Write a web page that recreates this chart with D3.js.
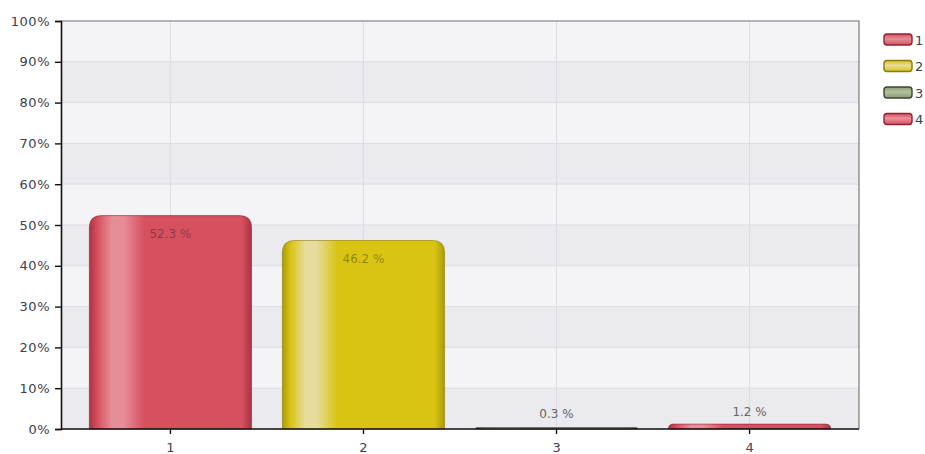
<!DOCTYPE html>
<html>
<head>
<meta charset="utf-8">
<script src="https://cdn.jsdelivr.net/npm/d3@7"></script>
<style>
  html, body { margin: 0; padding: 0; background: #ffffff; }
  svg { display: block; }
  text { font-family: "DejaVu Sans", "Liberation Sans", Arial, sans-serif; }
</style>
</head>
<body>
<svg id="chart" width="925" height="454"></svg>
<script>
// ---- data ----
const categories = ["1", "2", "3", "4"];
const values = [52.3, 46.2, 0.3, 1.2];
const valueLabels = ["52.3 %", "46.2 %", "0.3 %", "1.2 %"];
const yTicks = [0, 10, 20, 30, 40, 50, 60, 70, 80, 90, 100];
const legendLabels = ["1", "2", "3", "4"];

// ---- styles ----
const palette = [
  { main: "#d6505f", light: "#e68e97", dark: "#a83444", edge: "#8c2434" },
  { main: "#d9c414", light: "#e6dc9c", dark: "#ac9a08", edge: "#8c7d00" },
  { main: "#8c9c74", light: "#b4c0a0", dark: "#5c6a4c", edge: "#3c4434" },
  { main: "#d84e60", light: "#e8909a", dark: "#a83444", edge: "#8c2434" }
];

const svg = d3.select("#chart");
const pLeft = 61, pRight = 859, pTop = 21, pBottom = 429;

const x = d3.scaleBand().domain(categories).range([pLeft, pRight])
  .paddingInner(0.16).paddingOuter(0.147);
const y = d3.scaleLinear().domain([0, 100]).range([pBottom, pTop]);

const defs = svg.append("defs");
palette.forEach((c, i) => {
  const g = defs.append("linearGradient").attr("id", "bar" + i)
    .attr("x1", "0").attr("x2", "1").attr("y1", "0").attr("y2", "0");
  g.append("stop").attr("offset", "0").attr("stop-color", c.dark);
  g.append("stop").attr("offset", "0.05").attr("stop-color", c.main);
  g.append("stop").attr("offset", "0.14").attr("stop-color", c.light);
  g.append("stop").attr("offset", "0.21").attr("stop-color", c.light);
  g.append("stop").attr("offset", "0.34").attr("stop-color", c.main);
  g.append("stop").attr("offset", "0.94").attr("stop-color", c.main);
  g.append("stop").attr("offset", "1").attr("stop-color", c.dark);
  const lg = defs.append("linearGradient").attr("id", "leg" + i)
    .attr("x1", "0").attr("x2", "0").attr("y1", "0").attr("y2", "1");
  lg.append("stop").attr("offset", "0").attr("stop-color", c.main);
  lg.append("stop").attr("offset", "0.45").attr("stop-color", c.light);
  lg.append("stop").attr("offset", "1").attr("stop-color", c.main);
});

// background stripes
const stripes = d3.range(0, 100, 10);
svg.append("g").selectAll("rect").data(stripes).join("rect")
  .attr("x", pLeft).attr("width", pRight - pLeft)
  .attr("y", d => y(d + 10)).attr("height", d => y(d) - y(d + 10))
  .attr("fill", d => (d / 10) % 2 === 0 ? "#eaeaef" : "#f4f4f7");

// horizontal grid
svg.append("g").selectAll("line").data(yTicks).join("line")
  .attr("x1", pLeft).attr("x2", pRight)
  .attr("y1", d => y(d)).attr("y2", d => y(d))
  .attr("stroke", "#dcdce2").attr("stroke-width", 1);

// vertical grid at category centres
svg.append("g").selectAll("line").data(categories).join("line")
  .attr("x1", d => x(d) + x.bandwidth() / 2).attr("x2", d => x(d) + x.bandwidth() / 2)
  .attr("y1", pTop).attr("y2", pBottom)
  .attr("stroke", "#dcdce2").attr("stroke-width", 1);

// plot border (top / right)
svg.append("path")
  .attr("d", `M${pLeft},${pTop}H${pRight}V${pBottom}`)
  .attr("fill", "none").attr("stroke", "#7a7a7a").attr("stroke-width", 1.2);

// bars
function barPath(x0, w, yTop, yBot) {
  const h = yBot - yTop;
  const r = Math.min(12, h, w / 2);
  return `M${x0},${yBot}V${yTop + r}Q${x0},${yTop} ${x0 + r},${yTop}` +
         `H${x0 + w - r}Q${x0 + w},${yTop} ${x0 + w},${yTop + r}V${yBot}Z`;
}
const bars = svg.append("g");
categories.forEach((cat, i) => {
  const x0 = x(cat), w = x.bandwidth();
  const yT = Math.min(y(values[i]), pBottom - 1.5);
  bars.append("path")
    .attr("d", barPath(x0, w, yT, pBottom))
    .attr("fill", `url(#bar${i})`)
    .attr("stroke", palette[i].edge).attr("stroke-width", 1).attr("stroke-opacity", 0.6);
});

// value labels
const inside = i => (pBottom - y(values[i]) > 30);
svg.append("g").selectAll("text").data(categories).join("text")
  .attr("x", d => x(d) + x.bandwidth() / 2)
  .attr("y", (d, i) => inside(i) ? y(values[i]) + 22 : Math.min(y(values[i]) - 8, pBottom - 11))
  .attr("text-anchor", "middle")
  .attr("font-size", 12)
  .attr("fill", (d, i) => inside(i) ? "#000" : "#666")
  .attr("fill-opacity", (d, i) => inside(i) ? 0.35 : 1)
  .text((d, i) => valueLabels[i]);

// y axis
const yAxis = d3.axisLeft(y).tickValues(yTicks).tickSize(6).tickPadding(5)
  .tickFormat(d => d + "%");
const gy = svg.append("g").attr("transform", `translate(${pLeft},0)`).call(yAxis);
gy.select(".domain").attr("stroke", "#111").attr("stroke-width", 1.6);
gy.selectAll(".tick line").attr("stroke", "#111").attr("stroke-width", 1.4);
gy.selectAll(".tick text").attr("font-size", 13).attr("fill", "#404050")
  .attr("font-family", "DejaVu Sans, sans-serif").style("letter-spacing", "0.5px");

// x axis
const xAxis = d3.axisBottom(x).tickSize(5).tickPadding(9);
const gx = svg.append("g").attr("transform", `translate(0,${pBottom})`).call(xAxis);
gx.select(".domain").attr("stroke", "#111").attr("stroke-width", 1.6)
  .attr("d", `M${pLeft},0H${pRight}`);
gx.selectAll(".tick line").attr("stroke", "#111").attr("stroke-width", 1.4);
gx.selectAll(".tick text").attr("font-size", 13).attr("fill", "#404050")
  .attr("font-family", "DejaVu Sans, sans-serif");

// legend
const legend = svg.append("g");
legendLabels.forEach((lab, i) => {
  const ly = 34 + i * 26.5;
  legend.append("rect")
    .attr("x", 884).attr("y", ly).attr("width", 28).attr("height", 11)
    .attr("rx", 3).attr("ry", 3)
    .attr("fill", `url(#leg${i})`)
    .attr("stroke", palette[i].edge).attr("stroke-width", 1.4);
  legend.append("text")
    .attr("x", 915).attr("y", ly + 10.5)
    .attr("font-size", 13).attr("fill", "#404050")
    .text(lab);
});
</script>
</body>
</html>
